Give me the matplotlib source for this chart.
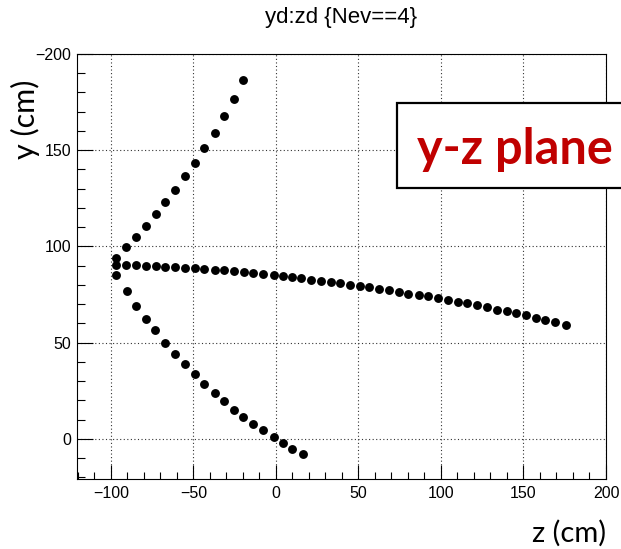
import matplotlib
matplotlib.use("Agg")
import matplotlib.pyplot as plt
from matplotlib.ticker import MultipleLocator, FixedLocator, FuncFormatter
from matplotlib.patches import Rectangle

# Track 1: rises from the vertex towards upper right
z_up = [-97.0, -91.1, -84.8, -78.9, -72.8, -66.9, -61.2, -54.9, -49.2,
        -43.3, -37.0, -31.3, -25.6, -19.8]
y_up = [94.1, 99.5, 105.0, 110.9, 117.1, 123.2, 129.6, 136.5, 143.6,
        151.0, 159.1, 167.6, 176.8, 186.4]

# Track 2: long, nearly flat track
z_mid = [-97.0, -91.1, -84.6, -78.9, -72.8, -66.9, -61.2, -54.9, -49.2,
         -43.3, -37.0, -31.3, -25.6, -19.3, -13.6, -7.7, -1.4, 4.2, 9.9,
         15.4, 21.3, 27.5, 33.2, 39.1, 44.7, 51.0, 56.7, 62.5, 68.8, 74.5,
         80.3, 86.6, 92.3, 98.2, 104.4, 110.1, 115.8, 122.0, 127.9, 134.0,
         139.8, 145.7, 151.4, 157.7, 163.3, 169.2, 175.5]
y_mid = [90.5, 90.5, 90.5, 90.0, 90.0, 89.5, 89.5, 88.8, 88.8,
         88.3, 87.7, 87.7, 87.2, 86.5, 86.2, 85.7, 85.1, 84.5, 83.9,
         83.4, 82.7, 82.2, 81.7, 81.2, 80.0, 79.6, 79.1, 78.1, 77.4, 76.3,
         75.5, 74.8, 74.1, 73.0, 72.2, 71.1, 70.6, 69.6, 68.4, 67.2,
         66.3, 65.3, 64.2, 63.0, 62.0, 60.6, 59.2]

# Track 3: descends from the vertex
z_low = [-97.0, -90.5, -84.6, -78.9, -73.2, -66.9, -61.2, -54.9, -49.2,
         -43.3, -37.0, -31.3, -25.6, -19.7, -13.6, -7.7, -1.4, 4.2, 9.9,
         16.5]
y_low = [85.0, 77.0, 69.2, 62.5, 56.6, 50.1, 44.2, 38.8, 33.5,
         28.6, 23.8, 19.5, 15.1, 11.3, 7.7, 4.4, 1.1, -2.0, -5.1,
         -7.8]

x_ticks = [-100, -50, 0, 50, 100, 150, 200]
y_ticks = [0, 50, 100, 150, 200]
y_tick_text = {200: "\u2212200"}

W, H = 621, 549
fig = plt.figure(figsize=(W / 100, H / 100), dpi=100)
ax = fig.add_axes([77 / W, 1 - 479 / H, (606 - 77) / W, (479 - 54) / H])

for zz, yy in [(z_up, y_up), (z_mid, y_mid), (z_low, y_low)]:
    ax.plot(zz, yy, linestyle="none", marker="o", markersize=6.4,
            color="black", markeredgewidth=0)

ax.set_xlim(-120.5, 200)
ax.set_ylim(-20.8, 200)

ax.xaxis.set_major_locator(FixedLocator(x_ticks))
ax.xaxis.set_minor_locator(MultipleLocator(10))
ax.yaxis.set_major_locator(FixedLocator(y_ticks))
ax.yaxis.set_minor_locator(MultipleLocator(10))
ax.yaxis.set_major_formatter(FuncFormatter(
    lambda v, p: y_tick_text.get(int(round(v)), f"{int(round(v))}".replace("-", "\u2212"))))
ax.xaxis.set_major_formatter(FuncFormatter(
    lambda v, p: f"{int(round(v))}".replace("-", "\u2212")))

ax.grid(True, which="major", linestyle=(0, (1, 2.2)), linewidth=0.8, color="#333333")

tick_font = "Liberation Sans"
ax.tick_params(axis="both", which="both", direction="in", top=False, right=False,
               labelsize=11.5, width=0.8, color="black")
ax.tick_params(axis="y", which="major", length=11.5, pad=4)
ax.tick_params(axis="y", which="minor", length=5.8)
ax.tick_params(axis="x", which="major", length=10.0, pad=5)
ax.tick_params(axis="x", which="minor", length=5.0)
for lab in ax.get_xticklabels() + ax.get_yticklabels():
    lab.set_family(tick_font)
for sp in ax.spines.values():
    sp.set_linewidth(0.8)

fig.text(341 / W, 1 - 17 / H, "yd:zd {Nev==4}", ha="center", va="center",
         fontsize=16, family=tick_font)

fig.text(25 / W, 1 - 119 / H, "y (cm)", rotation=90, ha="center", va="center",
         fontsize=22, family="Lato")
fig.text(569 / W, 1 - 533 / H, "z (cm)", ha="center", va="center",
         fontsize=21, family="Lato")

box = Rectangle((397 / W, 1 - 188 / H), (630 - 397) / W, (188 - 103) / H,
                transform=fig.transFigure, facecolor="white", edgecolor="black",
                linewidth=1.6, zorder=5, clip_on=False)
fig.add_artist(box)
fig.text(515 / W, 1 - 164 / H, "y-z plane", ha="center", va="baseline",
         fontsize=35, fontweight="bold", color="#c00000", family="Lato", zorder=6)

fig.savefig("out.png", dpi=100)
